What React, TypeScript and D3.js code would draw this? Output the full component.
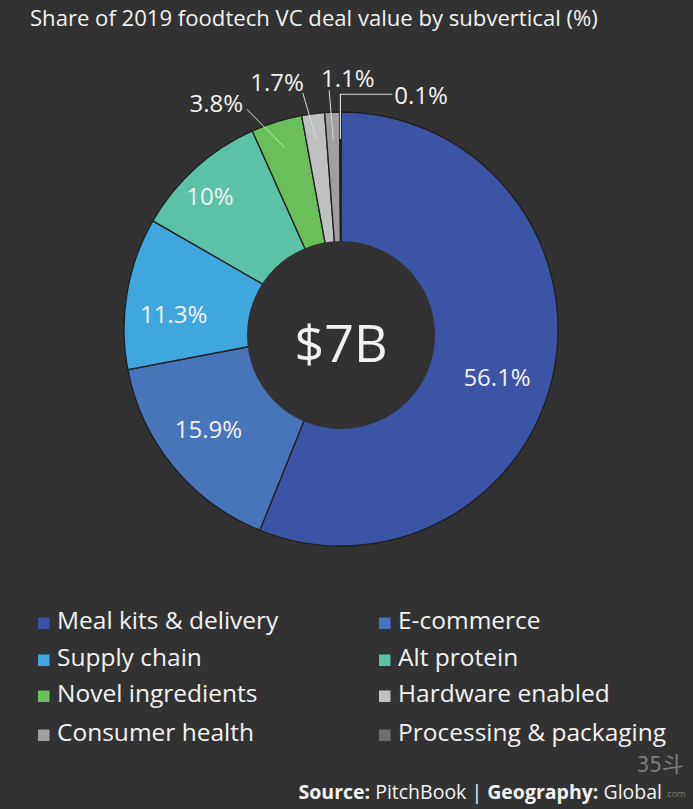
import * as d3 from 'd3'

const CATEGORIES = [
  'Meal kits & delivery',
  'E-commerce',
  'Supply chain',
  'Alt protein',
  'Novel ingredients',
  'Hardware enabled',
  'Consumer health',
  'Processing & packaging',
]
const SHARES = [56.1, 15.9, 11.3, 10, 3.8, 1.7, 1.1, 0.1]
const SHARE_LABELS = ['56.1%', '15.9%', '11.3%', '10%', '3.8%', '1.7%', '1.1%', '0.1%']
const COLORS = ['#3b54a5', '#4874ba', '#3fa7de', '#5bc1a7', '#6abf5b', '#bfc0c2', '#a0a0a2', '#6d6e70']
const TOTAL_LABEL = '$7B'
const TITLE = 'Share of 2019 foodtech VC deal value by subvertical (%)'

const W = 693
const H = 809
const BG = '#323232'
const FONT = "'Open Sans', 'Noto Sans', sans-serif"
const TEXT = '#f2f2f2'

// label placement: radius + angle nudge (deg) from the slice's mid angle
const LABEL_POS = [
  { r: 163, da: 5.8 },
  { r: 166, da: 2.4 },
  { r: 168, da: -4.3 },
  { r: 187, da: -2.4 },
  { r: 259, da: -11.5 },
  { r: 256, da: -7.1 },
  { r: 252, da: 3.9 },
  { r: 248, da: 19.0 },
]
// leader end points for outside labels (index -> angle nudge at r=239)
const LEADER_DA: Record<number, number> = { 4: -5.9, 5: -1.8, 6: -0.5 }

export default function App() {
  const cx = 341
  const cy = 329
  const R = 217
  const holeR = 94

  const pie = d3.pie<number>().sort(null).value((d) => d)
  const arcs = pie(SHARES)
  const arc = d3.arc<d3.PieArcDatum<number>>().innerRadius(0).outerRadius(R)

  const polar = (r: number, a: number) => [r * Math.sin(a), -r * Math.cos(a)] as [number, number]
  const mid = (d: d3.PieArcDatum<number>) => (d.startAngle + d.endAngle) / 2
  const rad = (deg: number) => (deg * Math.PI) / 180

  const legendRows = [629, 666, 702, 741]

  return (
    <svg
      width={W}
      height={H}
      style={{ position: 'fixed', left: 0, top: 0, background: BG, display: 'block' }}
    >
      <rect width={W} height={H} fill={BG} />
      <text x={30} y={26} fill={TEXT} fontSize={22.1} fontFamily={FONT}>
        {TITLE}
      </text>

      <g transform={`translate(${cx},${cy})`}>
        {arcs.map((d, i) => (
          <path key={i} d={arc(d) || ''} fill={COLORS[i]} stroke="#1f1f1f" strokeWidth={1.3} />
        ))}
        <circle cx={0} cy={6} r={holeR} fill={BG} />
        <text
          x={0}
          y={12}
          fill={TEXT}
          fontSize={52}
          fontFamily={FONT}
          textAnchor="middle"
          dominantBaseline="central"
        >
          {TOTAL_LABEL}
        </text>

        {arcs.map((d, i) => {
          if (i < 4 || i === 7) return null
          const [x1, y1] = polar(190, mid(d))
          const [x2, y2] = polar(239, mid(d) + rad(LEADER_DA[i]))
          return <line key={i} x1={x1} y1={y1} x2={x2} y2={y2} stroke="#d8d8d8" strokeWidth={1} />
        })}
        {(() => {
          const d = arcs[7]
          const [x1, y1] = polar(190, mid(d))
          const [, yl] = polar(248, mid(d) + rad(LABEL_POS[7].da))
          return (
            <polyline
              points={`${x1},${y1} ${x1},${yl} ${x1 + 52},${yl}`}
              fill="none"
              stroke="#d8d8d8"
              strokeWidth={1.2}
            />
          )
        })()}

        {arcs.map((d, i) => {
          const [x, y] = polar(LABEL_POS[i].r, mid(d) + rad(LABEL_POS[i].da))
          return (
            <text
              key={i}
              x={x}
              y={y}
              fill={TEXT}
              fontSize={24}
              fontFamily={FONT}
              textAnchor="middle"
              dominantBaseline="central"
            >
              {SHARE_LABELS[i]}
            </text>
          )
        })}
      </g>

      {CATEGORIES.map((c, i) => {
        const col = i % 2
        const row = Math.floor(i / 2)
        const x = col === 0 ? 38 : 379
        const y = legendRows[row]
        return (
          <g key={c}>
            <rect x={x} y={y - 11.5} width={11.5} height={11.5} fill={COLORS[i]} />
            <text x={x + 19} y={y} fill={TEXT} fontSize={24.5} fontFamily={FONT}>
              {c}
            </text>
          </g>
        )
      })}

      <text x={684} y={772} fill="#8a8a8a" fontSize={22} textAnchor="end" fontFamily="'DejaVu Sans Condensed', 'Noto Sans CJK SC', sans-serif" opacity={0.85}>
        35斗
      </text>
      <text x={662} y={799} fill={TEXT} fontSize={19.5} fontFamily={FONT} textAnchor="end">
        <tspan fontWeight="bold">Source:</tspan>
        <tspan> PitchBook | </tspan>
        <tspan fontWeight="bold">Geography:</tspan>
        <tspan> Global</tspan>
      </text>
      <text x={665} y={797} fill="#8a8a8a" fontSize={9} fontFamily={FONT} opacity={0.8}>
        .com
      </text>
    </svg>
  )
}
